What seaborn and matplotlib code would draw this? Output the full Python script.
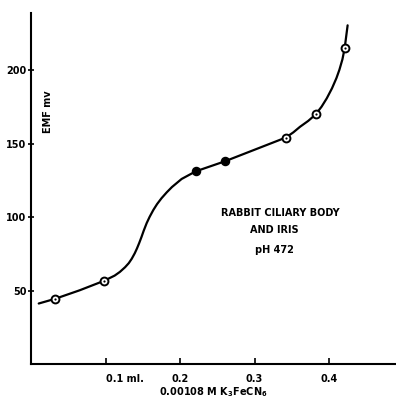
import pandas as pd
import matplotlib
matplotlib.use('Agg')
import matplotlib.pyplot as plt
import seaborn as sns

# --- data ---
# measured points (ml of 0.00108 M K3FeCN6, EMF in mv)
open_x = [0.032, 0.098, 0.342, 0.382, 0.421]
open_y = [44.5, 56.8, 154.3, 170.0, 215.0]
filled_x = [0.221, 0.260]
filled_y = [131.3, 138.1]

# hand-drawn curve, traced along its path
curve_x = [0.010, 0.032, 0.065, 0.098, 0.112, 0.119, 0.126, 0.131, 0.135, 0.139,
           0.142, 0.145, 0.148, 0.151, 0.155, 0.159, 0.164, 0.169, 0.175, 0.182,
           0.189, 0.202, 0.221, 0.260, 0.300, 0.342, 0.352, 0.361, 0.372, 0.382,
           0.390, 0.397, 0.404, 0.410, 0.414, 0.418, 0.421, 0.425]
curve_y = [41.3, 44.5, 50.3, 56.8, 60.3, 62.8, 66.0, 68.8, 71.8, 75.5,
           78.8, 82.5, 86.5, 90.8, 96.0, 100.3, 105.0, 109.0, 113.0, 117.0,
           120.6, 126.1, 131.3, 138.1, 146.0, 154.3, 157.8, 161.6, 165.6, 170.0,
           175.3, 181.0, 187.8, 194.8, 200.5, 207.5, 215.0, 230.7]

x_ticks = [0.1, 0.2, 0.3, 0.4]
x_tick_labels = ['0.1 ml.', '0.2', '0.3', '0.4']
y_ticks = [50, 100, 150, 200]

df_curve = pd.DataFrame({'ml': curve_x, 'emf': curve_y})
df_open = pd.DataFrame({'ml': open_x, 'emf': open_y})
df_filled = pd.DataFrame({'ml': filled_x, 'emf': filled_y})

sns.set_style('ticks')
plt.rcParams['font.family'] = ['DejaVu Sans']
plt.rcParams['font.weight'] = 'bold'
for k in ['text.color', 'axes.labelcolor', 'xtick.color', 'ytick.color', 'axes.edgecolor']:
    plt.rcParams[k] = 'black'

fig = plt.figure(figsize=(3.96, 3.98), dpi=100)
ax = fig.add_axes([0.079, 0.085, 0.921, 0.882])

sns.lineplot(data=df_curve, x='ml', y='emf', sort=False, color='black',
             linewidth=1.6, ax=ax)
sns.scatterplot(data=df_open, x='ml', y='emf', s=32, facecolor='white',
                edgecolor='black', linewidth=1.4, zorder=3, ax=ax)
sns.scatterplot(data=df_open, x='ml', y='emf', s=2.5, color='black',
                linewidth=0, zorder=4, ax=ax)
sns.scatterplot(data=df_filled, x='ml', y='emf', s=34, color='black',
                edgecolor='black', linewidth=1.0, zorder=3, ax=ax)

ax.set_xlim(0, 0.49)
ax.set_ylim(0, 239)
ax.set_xticks(x_ticks)
ax.set_xticklabels(x_tick_labels, fontsize=7, fontweight='bold')
ax.set_yticks(y_ticks)
ax.set_yticklabels([str(v) for v in y_ticks], fontsize=7, fontweight='bold')
ax.tick_params(axis='x', direction='in', length=4, width=1.2, pad=7)
ax.tick_params(axis='y', direction='inout', length=5, width=1.2, pad=1)
for lbl in ax.get_xticklabels()[:1]:
    lbl.set_horizontalalignment('left')
    lbl.set_x(0.093)

sns.despine(ax=ax)
ax.spines['left'].set_linewidth(1.5)
ax.spines['bottom'].set_linewidth(1.5)

ax.set_xlabel('0.00108 M K$_3$FeCN$_6$', fontsize=7, fontweight='bold', labelpad=1)
ax.set_ylabel('')
ax.text(0.022, 172, 'EMF mv', rotation=90, fontsize=7, fontweight='bold',
        ha='center', va='center')

ax.text(0.334, 103, 'RABBIT CILIARY BODY', fontsize=7, fontweight='bold',
        ha='center', va='center')
ax.text(0.327, 91.5, 'AND IRIS', fontsize=7, fontweight='bold',
        ha='center', va='center')
ax.text(0.327, 77.5, 'pH 472', fontsize=7, fontweight='bold',
        ha='center', va='center')

plt.savefig('out.png', dpi=100)
